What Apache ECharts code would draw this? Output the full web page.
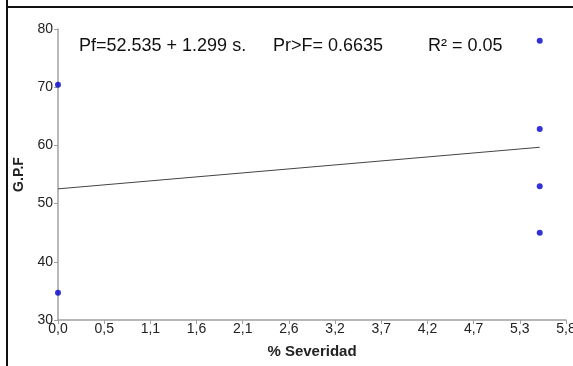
<!DOCTYPE html>
<html>
<head>
<meta charset="utf-8">
<script src="https://cdn.jsdelivr.net/npm/echarts@6/dist/echarts.min.js"></script>
<style>html,body{margin:0;padding:0;background:#fff}#c{width:573px;height:366px}</style>
</head>
<body>
<div id="c"></div>
<script>
var xTickLabels = ['0,0','0,5','1,1','1,6','2,1','2,6','3,2','3,7','4,2','4,7','5,3','5,8'];
var severidad = [0, 0, 5.5, 5.5, 5.5, 5.5];
var gpf = [70.4, 34.7, 78.0, 62.8, 53.0, 45.0];
var fitIntercept = 52.535;
var fitSlope = 1.299;
var fitX = [0, 5.5];
var annotations = ['Pf=52.535 + 1.299 s.', 'Pr>F= 0.6635', 'R\u00b2 = 0.05'];

var xMax = 5.8;
var xInterval = xMax / (xTickLabels.length - 1);
var font = '"Liberation Sans", Arial, sans-serif';

var chart = echarts.init(document.getElementById('c'));
chart.setOption({
  animation: false,
  grid: {left: 58, right: 7, top: 29, bottom: 46, containLabel: false, outerBoundsMode: 'none'},
  xAxis: {
    type: 'value', min: 0, max: xMax, interval: xInterval,
    name: '% Severidad', nameLocation: 'middle', nameGap: 24,
    nameTextStyle: {fontFamily: font, fontSize: 15, fontWeight: 'bold', color: '#222'},
    axisLine: {lineStyle: {color: '#a0a0a0', width: 1.5}},
    axisTick: {show: true, length: 4, lineStyle: {color: '#a0a0a0'}},
    axisLabel: {fontFamily: font, fontSize: 14, color: '#222', margin: 2, hideOverlap: false,
      formatter: function (v) { return xTickLabels[Math.round(v / xInterval)]; }},
    splitLine: {show: false}
  },
  yAxis: {
    type: 'value', min: 30, max: 80, interval: 10,
    name: 'G.P.F', nameLocation: 'middle', nameGap: 31, nameRotate: 90,
    nameTextStyle: {fontFamily: font, fontSize: 14, fontWeight: 'bold', color: '#222'},
    axisLine: {show: true, lineStyle: {color: '#a0a0a0', width: 1.5}},
    axisTick: {show: true, length: 4, lineStyle: {color: '#a0a0a0'}},
    axisLabel: {fontFamily: font, fontSize: 14, color: '#222', margin: 5},
    splitLine: {show: false}
  },
  graphic: [
    {type: 'line', shape: {x1: 7, y1: 0, x2: 7, y2: 366}, style: {stroke: '#111', lineWidth: 2}, silent: true},
    {type: 'line', shape: {x1: 6, y1: 7, x2: 573, y2: 7}, style: {stroke: '#111', lineWidth: 2}, silent: true},
    {type: 'text', left: 79, top: 37, style: {text: annotations[0], font: '18px ' + font, fill: '#111'}},
    {type: 'text', left: 273, top: 37, style: {text: annotations[1], font: '18px ' + font, fill: '#111'}},
    {type: 'text', left: 428, top: 37, style: {text: annotations[2], font: '18px ' + font, fill: '#111'}}
  ],
  series: [
    {
      type: 'line', data: fitX.map(function (x) { return [x, fitIntercept + fitSlope * x]; }),
      symbol: 'none', lineStyle: {color: '#444', width: 1}, z: 1
    },
    {
      type: 'scatter', data: severidad.map(function (x, i) { return [x, gpf[i]]; }),
      symbol: 'circle', symbolSize: 6, itemStyle: {color: '#0000d0'}, z: 3
    }
  ]
});
</script>
</body>
</html>
